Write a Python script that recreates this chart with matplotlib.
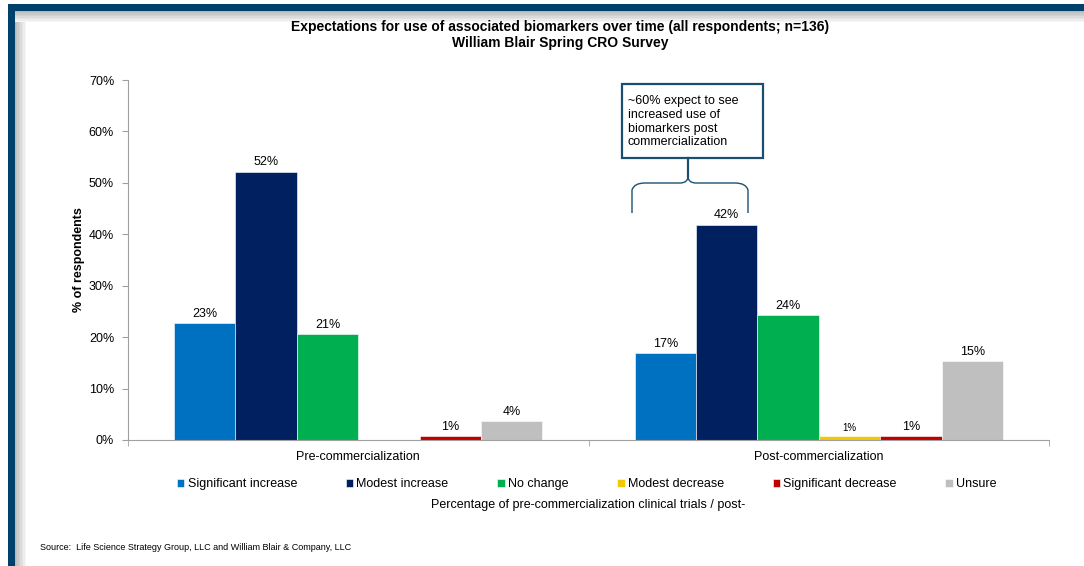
import numpy as np
import matplotlib.pyplot as plt
from matplotlib.patches import Rectangle, PathPatch
from matplotlib.path import Path

# dados
grupos = ['Pre-commercialization', 'Post-commercialization']
series = ['Significant increase', 'Modest increase', 'No change',
          'Modest decrease', 'Significant decrease', 'Unsure']
pre = [22.8, 52.2, 20.6, 0.0, 0.7, 3.7]
post = [16.9, 41.9, 24.3, 0.7, 0.7, 15.4]
cores = ['#0070C0', '#002060', '#00B050', '#F2C800', '#C00000', '#BFBFBF']

plt.rcParams['font.family'] = ['Liberation Sans', 'DejaVu Sans']

W, H = 1084, 566
fig = plt.figure(figsize=(W / 100, H / 100), dpi=100)

# moldura (fundo) em coordenadas de pixel
fundo = fig.add_axes([0, 0, 1, 1], zorder=0)
fundo.set_xlim(0, W)
fundo.set_ylim(H, 0)
fundo.axis('off')
for i in range(8):
    c = 0.72 + i * 0.035
    fundo.add_patch(Rectangle((14, 10 + i * 1.5), W, 1.6, color=(c, c, c), lw=0))
    fundo.add_patch(Rectangle((14 + i * 1.5, 10 + i * 1.5), 1.6, H, color=(c, c, c), lw=0))
fundo.add_patch(Rectangle((14 + 12, 10 + 12), W, H, color='white', lw=0))
fundo.add_patch(Rectangle((0, 0), W, 4, color='white', lw=0))
fundo.add_patch(Rectangle((8, 4), W, 6.5, color='#00416B', lw=0))
fundo.add_patch(Rectangle((8, 4), 6.5, H, color='#00416B', lw=0))

# caixa de comentario e chave
fundo.add_patch(Rectangle((622, 84), 141, 74, fill=False, ec='#1B4F72', lw=1.6))
fundo.text(628, 95, '~60% expect to see\nincreased use of\nbiomarkers post\ncommercialization',
           fontsize=9, va='top', ha='left', linespacing=1.2)
verts = [(632, 213), (632, 190), (634, 183), (645, 183),
         (680, 183), (688, 183), (688, 176),
         (688, 183), (696, 183), (735, 183),
         (746, 183), (748, 190), (748, 213)]
codes = [Path.MOVETO, Path.LINETO, Path.CURVE3, Path.CURVE3,
         Path.LINETO, Path.CURVE3, Path.CURVE3,
         Path.CURVE3, Path.CURVE3, Path.LINETO,
         Path.CURVE3, Path.CURVE3, Path.LINETO]
fundo.add_patch(PathPatch(Path(verts, codes), fill=False, ec='#1B4F72', lw=1.0))
fundo.plot([688, 688], [158, 176], color='#1B4F72', lw=1.6)

fundo.text(40, 548, 'Source:  Life Science Strategy Group, LLC and William Blair & Company, LLC',
           fontsize=6.5, va='center', ha='left')

# grafico principal
ax = fig.add_axes([128 / W, (H - 440) / H, (1049 - 128) / W, 360 / H], zorder=1)
ax.patch.set_alpha(0)
x = np.arange(len(grupos))
larg = 0.8 / len(series)
for k in range(len(series)):
    vals = [pre[k], post[k]]
    pos = x - 0.4 + larg * (k + 0.5)
    ax.bar(pos, vals, width=larg, color=cores[k], label=series[k],
           edgecolor='white', linewidth=0.4)
    for p, v in zip(pos, vals):
        if v > 0:
            tam = 7 if k == 3 else 9
            ax.text(p, v + 0.6, '%d%%' % round(v), ha='center', va='bottom', fontsize=tam)

ax.set_xlim(-0.5, 1.5)
ax.set_ylim(0, 70)
ax.set_yticks(np.arange(0, 71, 10))
ax.set_yticklabels(['%d%%' % v for v in range(0, 71, 10)], fontsize=9)
ax.set_xticks([-0.5, 0.5, 1.5], minor=True)
ax.set_xticks(x)
ax.set_xticklabels(grupos, fontsize=9)
ax.tick_params(axis='x', which='major', length=0, pad=8)
ax.tick_params(axis='x', which='minor', length=4, color='#A0A0A0')
ax.tick_params(axis='y', length=4, color='#A0A0A0', pad=6)
for s in ['top', 'right']:
    ax.spines[s].set_visible(False)
for s in ['left', 'bottom']:
    ax.spines[s].set_color('#A0A0A0')
ax.set_ylabel('% of respondents', fontsize=9, fontweight='bold', labelpad=3)
ax.set_xlabel('Percentage of pre-commercialization clinical trials / post-', fontsize=9, labelpad=26)

ax.legend(loc='upper center', bbox_to_anchor=(0.498, -0.075), ncol=6, frameon=False,
          fontsize=9, handlelength=0.6, handleheight=0.6, handletextpad=0.25,
          columnspacing=3.9)

fig.text(560 / W, 1 - 35 / H,
         'Expectations for use of associated biomarkers over time (all respondents; n=136)\nWilliam Blair Spring CRO Survey',
         ha='center', va='center', fontsize=10, fontweight='bold', linespacing=1.1)

plt.savefig('out.png', dpi=100)
